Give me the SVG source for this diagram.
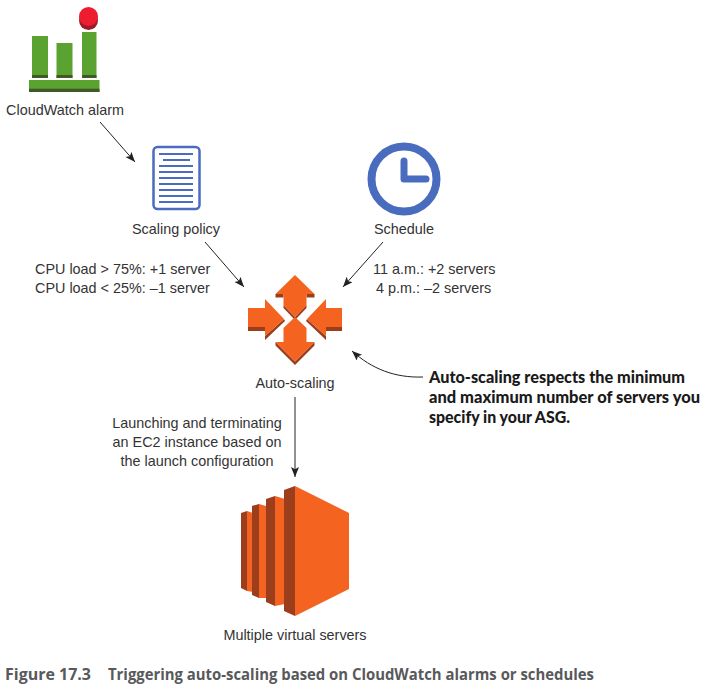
<svg xmlns="http://www.w3.org/2000/svg" width="711" height="687" viewBox="0 0 711 687">
<style>
text{font-family:"Liberation Sans",Arial,sans-serif;font-size:14.400px;fill:#333}
.m{text-anchor:middle}
.b{font-family:Lato,"Liberation Sans",sans-serif;font-weight:900;font-size:17px;fill:#1a1a1a}
.cap{font-family:"Open Sans","Liberation Sans",sans-serif;font-weight:700;font-size:15.500px;fill:#58595b}
.o{fill:#f46420}.d{fill:#9c3d1c}
.g{fill:#5ba331}.gd{fill:#3f5a25}
.c{fill:none;stroke:#222;stroke-width:1}
</style>
<defs><marker id="a" markerUnits="userSpaceOnUse" markerWidth="12" markerHeight="10" refX="10" refY="4" orient="auto"><path d="M0 0L10 4L0 8L2.200 4Z" fill="#222"/></marker></defs>
<rect width="711" height="687" fill="#fff"/>
<g id="connectors">
<path class="c" marker-end="url(#a)" d="M100 122L135 162"/>
<path class="c" marker-end="url(#a)" d="M205 242L244 287"/>
<path class="c" marker-end="url(#a)" d="M383 242L343 287"/>
<path class="c" marker-end="url(#a)" d="M295 397V477"/>
<path class="c" marker-end="url(#a)" d="M423 377C395 378 372 369 352 351"/>
</g>
<g id="cloudwatch">
<rect class="g" x="32" y="36" width="16" height="42"/><rect class="gd" x="32" y="75" width="16" height="3"/>
<rect class="g" x="56.500" y="43" width="16" height="35"/><rect class="gd" x="56.500" y="75" width="16" height="3"/>
<rect class="g" x="82" y="32" width="14.500" height="46"/><rect class="gd" x="82" y="75" width="14.500" height="3"/>
<rect class="g" x="29" y="80" width="70.500" height="12"/><rect class="gd" x="29" y="88.700" width="70.500" height="3.300"/>
<circle cx="88.500" cy="20.500" r="9.500" fill="#9a1b2c"/>
<circle cx="88.500" cy="16.500" r="9.500" fill="#ed1c2e"/>
<text class="m" x="65" y="115">CloudWatch alarm</text>
</g>
<g id="scaling-policy">
<rect x="153.500" y="147" width="46" height="62" rx="4" fill="#fff" stroke="#4a6cbf" stroke-width="2.500"/>
<path stroke="#4a6cbf" stroke-width="2" fill="none" d="M159 154H193M163 160H190M159 166H193M159 172H193M159 178H193M159 184H193M159 190H193M159 196H193M159 202H193"/>
<text class="m" x="176" y="234">Scaling policy</text>
</g>
<g id="schedule">
<circle cx="404" cy="179" r="32.500" fill="#fff" stroke="#4a6cbf" stroke-width="8"/>
<path d="M404 161V179H426" fill="none" stroke="#4a6cbf" stroke-width="7" stroke-linecap="round" stroke-linejoin="round"/>
<text class="m" x="404" y="234">Schedule</text>
</g>
<g id="auto-scaling">
<path class="d" d="M275.500 294H283.500V297.500H275.500ZM306.500 294H314.500V297.500H306.500ZM283.500 305L295 317L306.500 305V308L295 320L283.500 308Z"/>
<path class="o" d="M295 275L314.500 294H306.500V305L295 317L283.500 305V294H275.500Z"/>
<path class="d" d="M275.500 342V345.500L295 365L314.500 345.500V342L295 361.500Z"/>
<path class="o" d="M295 317L306.500 328V342H314.500L295 361.500L275.500 342H283.500V328Z"/>
<path class="d" d="M248 327V331H265V340L285 321L284 319L265 336V327Z"/>
<path class="o" d="M248 308H265V299L284 319L265 336V327H248Z"/>
<path class="d" d="M342 327V331H326V340L306 321L307 319L326 336V327Z"/>
<path class="o" d="M342 308H326V299L307 319L326 336V327H342Z"/>
<text class="m" x="295" y="388">Auto-scaling</text>
</g>
<g id="virtual-servers">
<path class="d" d="M241 513L247 511V591L241 588Z"/><path class="o" d="M247 511L253 513V592L247 591Z"/>
<path class="d" d="M252 506L259 504V598L252 595Z"/><path class="o" d="M259 504L266 506V598H259Z"/>
<path class="d" d="M266 499L275 496V606L266 602Z"/><path class="o" d="M275 496L285 499V604L275 606Z"/>
<path class="d" d="M284 490L295 486V616L284 611Z"/>
<path class="o" d="M295 486L349 513V589L295 616Z"/>
<text class="m" x="295" y="640">Multiple virtual servers</text>
</g>
<g id="labels">
<text x="35" y="274">CPU load &gt; 75%: +1 server</text>
<text x="35" y="293">CPU load &lt; 25%: –1 server</text>
<text x="373" y="274">11 a.m.: +2 servers</text>
<text x="376" y="293">4 p.m.: –2 servers</text>
<text class="m" x="197" y="428">Launching and terminating</text>
<text class="m" x="197" y="447">an EC2 instance based on</text>
<text class="m" x="197" y="466">the launch configuration</text>
<text class="b" x="429" y="383" textLength="256" lengthAdjust="spacingAndGlyphs">Auto-scaling respects the minimum</text>
<text class="b" x="429" y="403" textLength="271" lengthAdjust="spacingAndGlyphs">and maximum number of servers you</text>
<text class="b" x="429" y="423" textLength="141" lengthAdjust="spacingAndGlyphs">specify in your ASG.</text>
<text class="cap" x="5" y="680" textLength="86" lengthAdjust="spacingAndGlyphs">Figure 17.3</text>
<text class="cap" x="108" y="680" textLength="486" lengthAdjust="spacingAndGlyphs">Triggering auto-scaling based on CloudWatch alarms or schedules</text>
</g>
</svg>
